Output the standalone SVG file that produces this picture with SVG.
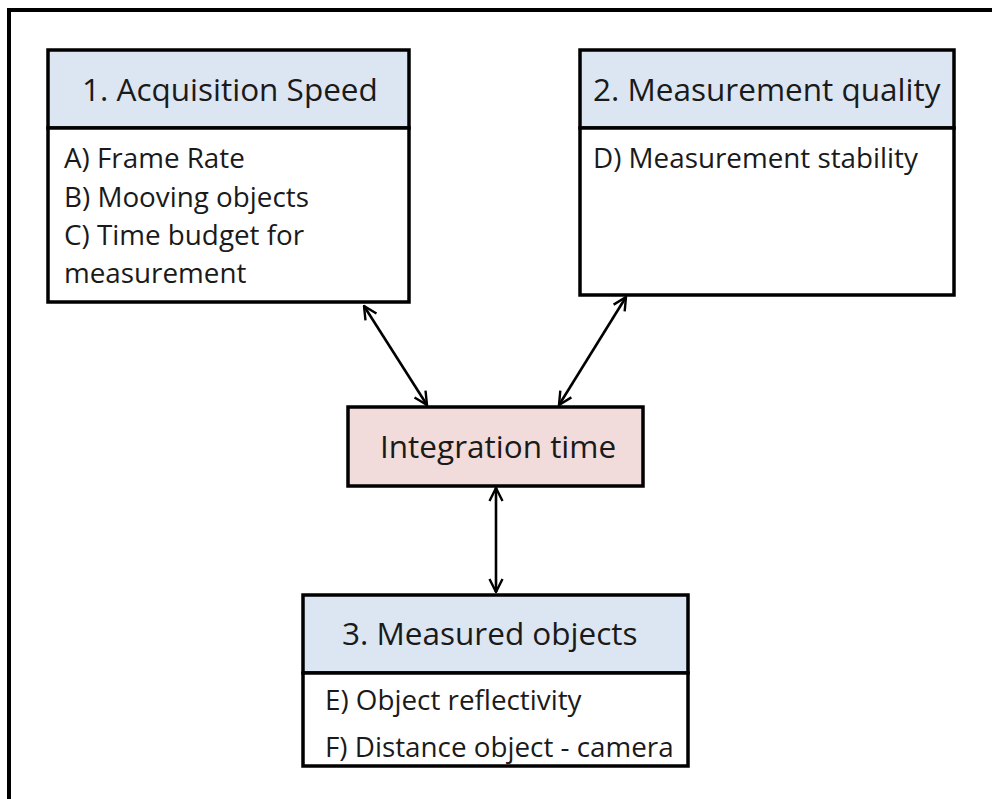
<svg xmlns="http://www.w3.org/2000/svg" width="992" height="799" viewBox="0 0 992 799">
<defs>
<marker id="ah" viewBox="0 0 16 16" refX="15" refY="8" markerWidth="16" markerHeight="16" markerUnits="userSpaceOnUse" orient="auto-start-reverse">
<path d="M2,1.5 L15,8 L2,14.5" fill="none" stroke="#000" stroke-width="2.4"/>
</marker>
<style>
.box{stroke:#000;stroke-width:3.5}
.hdr{fill:#dce6f2}
.body{fill:#fff}
.pink{fill:#f2dcdb}
.t{font-family:"Open Sans","Noto Sans",sans-serif;fill:#1a1a1a}
.h{font-size:31.5px}
.b{font-size:27.8px}
.conn{stroke:#000;stroke-width:2.6;fill:none}
</style>
</defs>
<rect x="0" y="0" width="992" height="799" fill="#fff"/>
<rect x="9" y="10" width="1000" height="800" fill="none" stroke="#000" stroke-width="4"/>
<g id="node1">
<rect class="box hdr" x="48" y="50" width="361" height="78"/>
<rect class="box body" x="48" y="128" width="361" height="174"/>
<text class="t h" x="82" y="101">1. Acquisition Speed</text>
<text class="t b" x="64" y="168">A) Frame Rate</text>
<text class="t b" x="64" y="207">B) Mooving objects</text>
<text class="t b" x="64" y="245">C) Time budget for</text>
<text class="t b" x="64" y="283">measurement</text>
</g>
<g id="node2">
<rect class="box hdr" x="580" y="50" width="374" height="78"/>
<rect class="box body" x="580" y="128" width="374" height="167"/>
<text class="t h" x="593" y="101">2. Measurement quality</text>
<text class="t b" x="593" y="168">D) Measurement stability</text>
</g>
<g id="node-integration">
<rect class="box pink" x="348" y="407" width="295" height="79"/>
<text class="t h" x="380" y="458">Integration time</text>
</g>
<g id="node3">
<rect class="box hdr" x="303" y="595" width="385" height="78"/>
<rect class="box body" x="303" y="673" width="385" height="93"/>
<text class="t h" x="342" y="645">3. Measured objects</text>
<text class="t b" x="325" y="710">E) Object reflectivity</text>
<text class="t b" x="325" y="757">F) Distance object - camera</text>
</g>
<g id="connectors">
<line class="conn" x1="364" y1="306" x2="427" y2="405" marker-start="url(#ah)" marker-end="url(#ah)"/>
<line class="conn" x1="626" y1="297" x2="559" y2="405" marker-start="url(#ah)" marker-end="url(#ah)"/>
<line class="conn" x1="496" y1="488" x2="496" y2="592" marker-start="url(#ah)" marker-end="url(#ah)"/>
</g>
</svg>
